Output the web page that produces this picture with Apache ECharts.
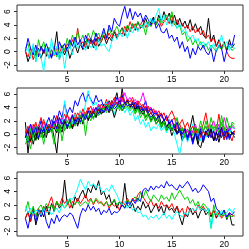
<!DOCTYPE html>
<html><head><meta charset="utf-8">
<script src="https://cdn.jsdelivr.net/npm/echarts@6/dist/echarts.min.js"></script>
<style>html,body{margin:0;padding:0;background:#fff}#c{width:249px;height:249px}</style>
</head><body><div id="c"></div>
<script>
// x grid: 1 to 21 in steps of 0.25 (81 points)
const xs = [];
for (let i = 0; i <= 80; i++) xs.push(1 + i * 0.25);
const xTicks = [5, 10, 15, 20];
const yTicks = [-2, 0, 2, 4, 6];
const colors = ['#000000', '#FF0000', '#00CD00', '#0000FF', '#00FFFF', '#FF00FF'];

// Panel 1
const p1Black = [0.2,-1.5,-0.4,0.8,-0.6,0.5,-1.0,0.3,-0.7,0.6,
 -0.8,0.2,3.0,-1.2,0.4,-0.5,0.7,-1.0,0.2,1.0,
 -0.2,1.2,0.3,1.6,0.4,1.8,0.6,2.0,0.8,1.5,
 2.4,1.2,2.2,1.6,3.0,2.0,2.8,3.6,2.4,3.8,
 3.0,4.2,3.2,4.5,3.5,4.0,5.0,3.8,4.5,5.2,
 4.0,5.5,4.5,6.0,4.8,5.8,4.2,5.5,4.0,5.0,
 3.8,4.6,3.5,4.8,3.2,4.2,3.0,3.8,2.5,2.0,
 5.0,1.5,2.5,0.8,1.8,0.5,1.5,0.2,1.8,0.6,
 1.2];
const p1Red = [0.0,-0.8,0.5,-1.2,0.2,-0.5,0.8,-0.3,0.4,-1.0,
 0.3,-0.6,0.5,-0.2,0.8,0.0,1.2,0.5,1.8,0.8,
 3.5,1.0,1.5,0.6,2.0,1.2,1.8,0.8,2.2,1.5,
 2.5,1.8,2.8,2.0,3.2,2.4,3.0,2.6,3.8,3.0,
 4.5,3.5,4.2,3.2,4.0,4.8,3.6,4.4,3.8,4.6,
 4.0,4.8,3.8,4.5,5.0,4.2,5.5,4.0,4.8,3.8,
 4.2,3.5,4.0,3.0,3.8,2.8,3.5,2.5,3.2,2.0,
 2.5,1.5,2.0,0.8,1.5,0.5,1.2,0.0,-0.8,-1.0,
 -1.0];
const p1Green = [0.5,1.2,-0.5,0.8,-1.5,1.8,0.2,1.5,-0.3,0.6,
 -0.5,0.3,-0.8,0.5,1.0,0.2,2.0,0.8,2.5,1.2,
 3.0,1.5,2.5,1.0,2.8,1.8,3.2,2.2,2.8,1.6,
 3.0,2.2,3.5,2.5,3.0,3.8,2.8,3.5,3.0,4.0,
 3.2,4.2,3.5,4.5,3.8,4.0,2.5,4.5,3.8,4.8,
 4.0,5.0,4.2,4.8,5.5,4.5,6.0,4.2,3.5,4.0,
 2.5,3.0,1.5,2.2,1.0,1.8,0.8,1.5,0.5,1.2,
 0.2,1.0,0.5,0.0,0.8,0.3,1.2,0.5,0.8,0.2,
 0.5];
const p1Blue = [0.0,2.0,0.5,-0.5,1.0,-0.8,0.8,-0.2,1.2,0.0,
 -1.0,0.8,-0.5,1.5,0.5,1.2,0.0,1.8,0.8,2.2,
 1.0,1.8,0.5,2.5,1.5,2.0,1.2,2.8,1.5,2.2,
 3.5,2.0,4.0,3.0,5.0,4.2,3.8,5.5,6.8,5.0,
 6.5,4.8,6.0,5.2,5.8,4.5,5.5,4.8,4.0,5.0,
 3.5,4.2,3.0,2.8,3.5,2.0,2.5,1.5,2.2,0.5,
 1.5,0.0,0.8,-1.0,0.5,-0.5,0.8,0.2,1.0,0.0,
 -0.5,0.5,-1.5,0.2,1.0,0.5,-1.5,0.2,1.2,0.8,
 2.5];
const p1Cyan = [0.0,0.5,-1.0,1.2,-1.5,0.3,-0.8,-3.0,0.5,-1.0,
 2.0,-0.5,0.8,-1.2,0.5,-2.5,0.2,1.0,-0.5,1.5,
 0.5,1.2,0.8,0.2,1.5,0.6,1.0,0.2,1.8,0.8,
 1.2,0.5,0.0,1.5,2.5,1.8,3.0,2.2,3.2,2.0,
 3.5,2.8,3.8,3.0,4.0,3.5,4.5,3.8,5.0,4.2,
 5.5,6.5,4.5,5.5,4.0,5.0,3.8,4.5,3.5,4.2,
 3.0,3.5,2.5,2.0,2.5,1.5,2.0,1.0,1.5,0.8,
 1.5,0.5,1.2,0.2,1.0,2.5,0.8,1.5,0.2,1.0,
 0.5];

// Panel 2
const p2S1 = [1.8,-2.8,0.5,-1.5,0.2,-0.8,1.0,-0.5,0.8,0.2,
 1.5,-0.5,-2.8,1.2,0.3,1.8,0.8,2.2,1.0,2.5,
 1.2,2.8,1.5,3.2,2.0,3.5,2.5,3.0,4.2,3.0,
 4.5,3.5,5.0,3.8,4.8,6.2,4.0,6.8,4.5,5.2,
 4.0,4.8,3.5,4.2,3.0,3.8,2.5,3.2,2.0,2.8,
 1.5,2.2,1.0,1.8,0.5,1.2,-0.2,0.8,0.0,0.5,
 -1.0,0.5,-0.5,1.0,2.8,0.5,-1.5,0.2,-1.2,0.5,
 -0.5,1.0,-0.8,0.3,-1.2,0.5,-0.3,0.8,-0.5,0.2,
 0.0];
const p2S2 = [-0.5,0.8,-1.2,1.5,0.0,1.2,2.5,0.5,1.8,0.8,
 2.2,1.0,2.8,1.5,2.0,3.0,1.8,2.5,1.2,3.2,
 2.0,3.5,2.5,3.0,4.0,2.8,3.8,3.2,4.5,3.5,
 4.0,5.2,3.8,4.5,5.5,4.2,5.0,6.0,4.5,5.2,
 4.8,5.5,4.2,5.0,4.5,3.8,4.2,3.5,4.0,3.2,
 3.5,2.8,3.2,2.0,2.5,1.5,2.0,2.5,0.8,1.5,
 0.5,1.0,-0.5,0.8,0.2,1.2,-0.2,0.5,1.5,3.2,
 1.0,0.0,-0.8,0.5,3.0,0.2,1.0,-0.5,0.8,0.2,
 0.5];
const p2S3 = [-1.5,-0.5,-2.2,0.2,-1.0,0.5,-0.5,1.0,0.0,1.5,
 0.5,-1.5,1.2,0.2,1.8,0.5,1.5,0.8,2.0,1.2,
 2.5,1.5,3.0,-0.2,2.8,2.0,3.5,2.5,3.2,4.0,
 3.5,4.5,3.8,5.0,4.2,4.8,3.5,4.5,3.8,4.2,
 3.5,4.0,3.0,3.8,2.5,3.2,2.0,2.8,1.8,2.5,
 1.5,2.0,1.0,1.8,0.5,2.2,1.2,0.8,1.5,0.2,
 0.8,-0.5,0.5,0.0,-1.0,0.5,-0.8,1.2,0.2,2.0,
 0.5,2.5,0.8,1.5,0.2,2.8,0.5,1.2,-0.2,1.8,
 1.5];
const p2S4 = [0.5,-1.2,1.0,0.2,1.5,0.5,2.0,0.8,1.5,2.5,
 1.2,2.8,1.8,3.5,2.5,4.5,3.0,4.0,3.2,5.0,
 4.2,5.5,6.2,4.8,6.0,5.2,4.5,5.8,4.8,5.2,
 4.0,4.8,3.5,5.0,4.2,5.5,4.8,5.8,4.5,5.0,
 4.2,4.8,3.8,4.5,3.5,4.0,5.0,3.2,2.5,3.0,
 2.2,2.8,1.5,2.2,1.0,1.8,0.5,1.2,0.0,0.8,
 -0.5,0.5,-1.0,0.2,-1.5,0.0,-0.8,0.5,-1.2,0.3,
 -0.5,0.8,-1.0,0.2,1.0,-0.5,0.5,-0.8,1.2,0.0,
 0.5];
const p2S5 = [0.0,-1.0,1.0,-0.5,1.5,0.2,1.2,0.5,2.0,1.0,
 0.5,1.5,0.8,2.2,1.2,5.0,1.8,2.5,1.5,3.0,
 2.5,3.5,2.8,4.5,6.5,5.0,4.2,4.8,3.8,4.5,
 4.0,4.8,3.5,4.2,3.0,4.5,3.8,4.2,3.2,4.0,
 2.8,3.5,2.0,2.8,1.5,2.2,1.0,1.8,0.5,1.2,
 0.8,1.5,0.5,1.2,0.2,1.0,1.5,0.0,-1.5,-3.0,
 -0.8,0.5,-1.2,0.2,1.5,-0.5,0.5,-1.0,0.8,-0.5,
 0.3,1.2,-0.5,0.8,0.0,1.5,-0.8,0.5,0.2,1.0,
 0.8];
const p2S6 = [0.5,-0.5,1.5,0.8,0.2,1.2,0.5,1.8,1.0,0.5,
 1.5,0.8,2.0,1.2,2.5,1.8,2.8,2.0,3.0,2.2,
 1.8,2.5,3.2,2.5,3.5,2.8,4.0,3.2,4.5,3.8,
 4.2,3.5,4.8,4.0,5.0,4.5,5.5,4.8,6.2,5.0,
 5.5,4.8,5.2,4.5,5.0,6.2,4.5,3.8,4.0,3.2,
 3.5,2.5,3.0,2.0,2.5,1.5,2.0,0.8,1.5,0.5,
 1.0,0.2,0.8,-0.5,0.5,1.5,0.2,1.0,0.5,1.2,
 0.2,1.0,2.0,0.5,1.5,0.2,2.5,1.0,0.5,1.2,
 0.8];
const p2S7 = [-0.5,0.5,-1.0,0.2,-0.8,1.0,0.0,0.8,-0.5,1.2,
 0.5,1.0,0.2,1.5,0.8,2.0,1.2,1.8,0.8,2.2,
 1.5,2.5,1.8,3.0,2.2,2.8,3.5,2.5,3.8,3.0,
 3.5,4.2,3.2,4.0,2.5,3.8,4.5,3.5,4.2,5.0,
 4.0,4.5,3.8,4.2,3.5,3.0,3.8,2.8,3.2,2.5,
 2.0,2.8,1.5,2.2,1.0,1.8,0.5,1.5,0.2,1.0,
 0.0,0.8,-0.5,0.5,-1.0,0.2,-1.5,-2.0,-0.5,0.5,
 -0.2,0.8,-1.0,0.3,-0.5,1.0,-0.8,0.5,-0.3,0.2,
 -0.5];
const p2S8 = [0.0,1.2,-0.5,0.8,1.8,0.2,1.0,2.2,0.8,1.5,
 0.5,1.8,1.0,2.5,1.5,2.0,3.0,1.8,2.8,2.2,
 3.2,2.5,3.8,2.8,3.5,4.2,3.0,4.0,3.5,4.5,
 3.8,4.5,4.0,5.0,4.2,4.8,4.0,5.5,4.5,4.8,
 4.2,5.0,4.0,4.8,3.8,4.5,3.5,4.2,3.0,3.8,
 2.8,3.5,2.5,3.2,2.0,2.8,3.5,2.5,2.0,1.5,
 2.2,1.0,1.8,0.5,1.2,0.0,0.8,-0.5,0.5,-0.2,
 0.8,-0.5,0.5,-1.0,0.2,0.8,-0.8,0.5,0.0,-1.0,
 0.5];
const p2S9 = [0.2,-1.0,0.8,-0.5,1.2,0.0,0.8,-1.5,0.5,1.0,
 0.2,1.5,0.5,1.8,-1.0,1.2,2.0,1.0,2.5,1.5,
 2.0,2.8,1.8,3.2,2.5,3.0,2.2,3.5,2.8,3.2,
 4.0,3.2,4.5,3.5,4.2,3.8,4.5,3.5,4.0,4.8,
 3.8,4.2,3.2,4.0,3.0,3.5,2.5,3.2,2.2,2.8,
 2.0,2.5,1.2,2.0,0.8,1.5,0.5,1.2,2.5,0.5,
 1.0,-0.5,0.5,0.8,-0.2,1.2,0.2,2.0,0.5,1.2,
 0.0,1.5,0.5,1.0,0.2,1.8,0.5,2.5,0.8,1.5,
 1.0];
const p2S10 = [-0.5,0.5,1.5,0.0,1.0,-0.5,0.8,0.2,1.5,0.5,
 1.0,2.0,0.8,2.5,1.5,2.2,1.0,1.8,2.8,1.5,
 2.5,1.8,3.0,2.2,3.5,2.5,3.2,4.0,3.0,3.8,
 3.2,4.0,3.5,4.5,3.8,4.2,5.0,4.0,4.8,4.2,
 4.5,4.0,4.8,3.8,4.2,3.5,4.0,3.2,3.8,3.0,
 3.2,2.5,3.0,2.0,2.8,1.5,2.2,1.0,1.8,0.5,
 0.0,0.8,-0.8,0.5,-1.2,0.2,-0.5,0.8,-1.0,0.2,
 0.8,-0.5,0.5,-1.0,0.3,0.8,-0.2,0.5,-0.8,0.3,
 0.0];

// Panel 3
const p3Black = [0.0,1.0,-0.5,1.5,-1.0,0.5,1.2,0.2,1.8,0.5,
 2.2,1.0,2.5,1.5,2.0,5.7,2.0,2.8,1.5,3.2,
 2.5,3.5,4.2,3.0,4.5,3.8,5.0,4.2,5.6,3.5,
 4.0,2.8,3.5,2.0,2.8,1.5,2.5,1.8,5.2,2.0,
 1.5,2.2,1.0,1.8,1.2,2.5,1.5,2.0,0.8,1.5,
 2.2,1.0,1.8,0.5,2.0,1.2,1.5,0.8,1.8,0.2,
 -1.0,0.8,0.2,1.5,0.5,1.2,0.0,1.0,1.5,0.5,
 1.0,0.2,1.2,0.0,0.8,0.5,1.2,-0.2,0.8,-1.0,
 -1.0];
const p3Red = [0.0,0.8,-0.5,1.2,0.2,1.5,0.5,1.8,1.0,2.2,
 3.2,1.5,2.5,1.8,3.0,2.2,2.8,1.5,2.5,2.0,
 3.0,2.2,2.8,3.5,2.5,3.0,2.0,2.8,2.2,2.5,
 1.8,2.5,1.5,2.2,1.8,2.0,1.2,2.5,2.0,3.0,
 2.2,3.0,2.5,3.5,4.0,3.2,2.5,2.0,2.8,1.8,
 2.2,1.5,2.5,1.8,2.0,1.5,2.2,1.2,1.8,0.8,
 1.5,0.2,1.8,1.0,1.5,0.8,2.0,1.2,1.8,1.0,
 1.5,0.5,1.2,0.2,0.8,0.0,0.5,0.2,0.8,0.5,
 0.3];
const p3Green = [1.0,2.5,0.5,1.8,0.2,1.5,2.0,1.0,2.2,1.5,
 2.0,1.2,2.5,1.8,2.2,1.5,2.0,2.8,1.8,2.2,
 2.5,1.8,2.2,2.5,2.0,2.8,2.2,3.0,2.5,2.2,
 2.0,2.5,1.8,2.2,2.8,2.0,2.5,2.2,1.5,2.8,
 2.2,2.8,3.2,2.5,3.8,3.0,4.2,3.2,2.5,3.5,
 3.0,2.5,3.5,2.8,3.2,2.5,3.8,2.8,3.5,4.2,
 3.5,2.8,3.2,2.2,2.8,1.8,2.5,1.5,2.2,1.8,
 1.2,-1.5,2.0,0.5,1.2,0.2,0.8,0.0,0.5,0.2,
 0.5];
const p3Blue = [0.0,-1.5,0.5,1.0,-0.5,1.2,0.2,1.5,-0.5,-1.5,
 0.0,-0.8,0.5,-0.5,0.2,0.5,0.2,0.8,0.5,-0.5,
 -1.5,0.5,1.5,1.0,2.0,1.2,1.8,1.0,1.5,0.5,
 1.2,0.8,1.5,0.5,1.0,0.8,1.2,2.0,1.5,2.5,
 2.0,2.8,2.2,3.0,2.5,4.2,4.5,4.0,4.8,4.2,
 4.8,4.5,5.0,4.5,5.5,4.8,5.0,4.5,4.2,5.0,
 4.5,5.0,5.5,4.8,4.0,4.5,3.8,4.2,5.0,4.5,
 4.0,2.5,3.0,1.5,1.0,0.5,1.2,0.2,0.8,0.5,
 1.0];
const p3Cyan = [1.8,0.8,1.5,0.5,1.2,1.0,0.5,1.5,0.8,1.2,
 0.5,1.0,1.5,0.8,2.0,1.5,2.5,3.0,2.8,3.5,
 4.5,5.8,5.0,4.2,5.5,4.8,5.2,4.5,5.0,4.2,
 3.8,4.5,4.0,5.0,4.2,3.5,2.5,2.0,2.5,1.5,
 2.0,1.2,1.5,0.8,1.0,0.2,0.5,-0.2,0.3,0.0,
 0.5,-0.2,0.3,0.8,0.0,0.5,-0.2,0.5,1.0,0.5,
 0.2,0.8,0.5,1.2,1.5,1.0,1.8,1.2,1.5,1.0,
 1.5,-1.5,0.5,1.0,0.2,1.2,0.5,0.8,1.5,0.8,
 1.5];

const panels = [
  [p1Black, p1Red, p1Green, p1Blue, p1Cyan],
  [p2S1, p2S2, p2S3, p2S4, p2S5, p2S6, p2S7, p2S8, p2S9, p2S10],
  [p3Black, p3Red, p3Green, p3Blue, p3Cyan]
];
const yMins = [-2.9, -2.95, -2.65];
const yMaxs = [7.0, 6.9, 6.9];

const font = "'Liberation Sans', Arial, sans-serif";
const grids = [
  {left: 17, right: 6, top: 5, height: 66},
  {left: 17, right: 6, top: 88, height: 66},
  {left: 17, right: 6, top: 172, height: 64}
].map(g => Object.assign(g, {show: true, borderColor: '#333', borderWidth: 1, backgroundColor: 'transparent'}));

const xAxes = [], yAxes = [], series = [];
panels.forEach((pan, p) => {
  xAxes.push({
    type: 'value', gridIndex: p, min: 0.2, max: 21.8, position: 'bottom',
    splitLine: {show: false},
    axisLine: {show: false, onZero: false},
    axisTick: {show: true, customValues: xTicks, length: 3, lineStyle: {color: '#333', width: 1}},
    axisLabel: {customValues: xTicks, fontSize: 8.5, margin: 4, color: '#000', fontFamily: font}
  });
  yAxes.push({
    type: 'value', gridIndex: p, min: yMins[p], max: yMaxs[p], position: 'left',
    splitLine: {show: false},
    axisLine: {show: false, onZero: false},
    axisTick: {show: true, customValues: yTicks, length: 3, lineStyle: {color: '#333', width: 1}},
    axisLabel: {customValues: yTicks, fontSize: 8.5, margin: 5, rotate: 90, color: '#000', fontFamily: font}
  });
  pan.forEach((arr, k) => {
    series.push({
      type: 'line', xAxisIndex: p, yAxisIndex: p,
      symbol: 'none', showSymbol: false, silent: true,
      lineStyle: {color: colors[k % colors.length], width: 1},
      data: xs.map((x, i) => [x, arr[i]])
    });
  });
});

const chart = echarts.init(document.getElementById('c'), null, {renderer: 'canvas'});
chart.setOption({animation: false, grid: grids, xAxis: xAxes, yAxis: yAxes, series: series});
</script>
</body></html>
